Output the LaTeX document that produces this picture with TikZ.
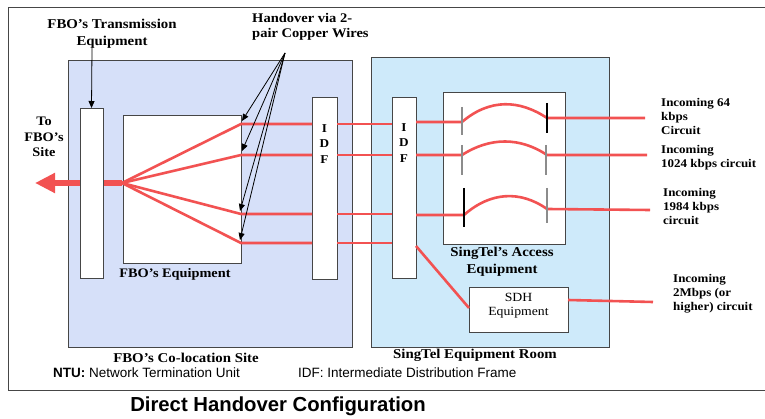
\documentclass[tikz,border=0pt]{standalone}
\usepackage{fontspec}
\setmainfont{Liberation Serif}[FakeStretch=1.1]
\newfontfamily\labelsans{Liberation Sans}
\usetikzlibrary{arrows.meta}

\definecolor{wirered}{RGB}{242,82,82}
\definecolor{colofill}{RGB}{214,224,249}
\definecolor{roomfill}{RGB}{206,234,250}
\definecolor{edgegray}{RGB}{70,70,70}
\definecolor{tickgray}{RGB}{140,140,140}

\begin{document}
\begin{tikzpicture}[x=1pt,y=-1pt,
  box/.style={draw=edgegray, line width=0.9pt, fill=white, anchor=north west,
    inner sep=0pt, outer sep=0pt},
  wire/.style={draw=wirered, line width=2.6pt},
  lbl/.style={font=\fontsize{13}{14}\selectfont\bfseries, align=center, inner sep=0pt},
  rlbl/.style={font=\fontsize{11.8}{14}\selectfont\bfseries, align=left, anchor=north west, inner sep=0pt},
  sanslbl/.style={font=\labelsans\fontsize{13.5}{14}\selectfont, anchor=west, inner sep=0pt},
  pointer/.style={draw=black, line width=0.8pt, -{Triangle[length=7pt,width=6pt]}},
  greytick/.style={draw=tickgray, line width=1.5pt},
  blacktick/.style={draw=black, line width=1.8pt},
]
\useasboundingbox (0,0) rectangle (765,419);

% outer frame
\draw[edgegray, line width=0.9pt] (766,7) -- (8,7) -- (8,390) -- (766,390);

% the two rooms
\node[box, fill=colofill, minimum width=284, minimum height=287] (colo) at (68,60) {};
\node[box, fill=roomfill, minimum width=238, minimum height=290] (room) at (371,57) {};

% aggregate link towards the FBO site
\coordinate (fan) at (122,183);
\coordinate (site) at (35,183);
\draw[draw=wirered, line width=6pt, -{Triangle[length=20pt,width=19pt]}] (fan) -- (site);

% equipment
\node[box, minimum width=23, minimum height=170] (tx) at (80,108) {};
\node[box, minimum width=118, minimum height=148] (fboeq) at (123,115) {};
\node[box, minimum width=25, minimum height=182] (idfA) at (312,97) {};
\node[box, minimum width=24, minimum height=181] (idfB) at (392,97) {};
\node[box, minimum width=122, minimum height=152] (access) at (443,92) {};
\node[box, minimum width=99, minimum height=45] (sdh) at (469,287) {};

% IDF letters
\node[lbl, align=center, font=\fontsize{12}{15.5}\selectfont\bfseries] (idfAtxt) at (324.5,144) {I\\D\\F};
\node[lbl, align=center, font=\fontsize{12}{15.5}\selectfont\bfseries] (idfBtxt) at (404,143) {I\\D\\F};
\node[font=\fontsize{12.5}{14}\selectfont, align=center, inner sep=0pt] (sdhtxt) at (518.5,306) {SDH\\Equipment};

% wire corners
\coordinate (p1) at (241,124);
\coordinate (p2) at (241,155);
\coordinate (p3) at (241,214);
\coordinate (p4) at (241,243);

% fan-out inside the FBO equipment and the pairs to the IDFs
\draw[wire] (fan) -- (p1) -- (p1 -| idfA.west);
\draw[wire] (fan) -- (p2) -- (p2 -| idfA.west);
\draw[wire] (fan) -- (p3) -- (p3 -| idfA.west);
\draw[wire] (fan) -- (p4) -- (p4 -| idfA.west);
\draw[wire] (p1 -| idfA.east) -- (p1 -| idfB.west);
\draw[wire] (p2 -| idfA.east) -- (p2 -| idfB.west);
\draw[wire] (p3 -| idfA.east) -- (p3 -| idfB.west);
\draw[wire] (p4 -| idfA.east) -- (p4 -| idfB.west);

% circuits through the access equipment
\coordinate (c1a) at (462,122);
\coordinate (c1b) at (547,118);
\coordinate (c1c) at (645,118);
\coordinate (c2a) at (462,155);
\coordinate (c2b) at (547,155);
\coordinate (c2c) at (647,155);
\coordinate (c3a) at (464,215);
\coordinate (c3b) at (547,209);
\coordinate (c3c) at (650,210);
\draw[wire] (idfB.east |- c1a) -- (c1a) .. controls (490,98) and (520,100) .. (c1b) -- (c1c);
\draw[wire] (idfB.east |- c2a) -- (c2a) .. controls (490,137) and (520,137) .. (c2b) -- (c2c);
\draw[wire] (idfB.east |- c3a) -- (c3a) .. controls (490,192) and (520,190) .. (c3b) -- (c3c);

% 2 Mbps circuit via SDH
\coordinate (s1) at (416,246);
\coordinate (s2) at (469,308);
\coordinate (s3) at (568,300);
\coordinate (s4) at (653,302);
\draw[wire] (s1) -- (s2);
\draw[wire] (s3) -- (s4);

% terminations
\draw[greytick] (462,107) -- (462,135);
\draw[blacktick] (547,103) -- (547,133);
\draw[greytick] (462,145) -- (462,175);
\draw[greytick] (546,145) -- (546,175);
\draw[blacktick, line width=2.6pt] (464,188) -- (464,227);
\draw[greytick] (547,188) -- (547,223);

% handover pointers
\coordinate (hv) at (285,53);
\coordinate (a1) at (242,121);
\coordinate (a2) at (242,151);
\coordinate (a3) at (240,211);
\coordinate (a4) at (240,240);
\draw[pointer] (hv) -- (a1);
\draw[pointer] (hv) -- (a2);
\draw[pointer] (hv) -- (a3);
\draw[pointer] (hv) -- (a4);

% transmission equipment pointer
\coordinate (txlbl) at (92,48);
\draw[pointer] (txlbl) -- (tx.north);

% labels
\node[lbl, font=\fontsize{13.5}{17}\selectfont\bfseries] (txname) at (112,34) {FBO’s Transmission\\Equipment};
\node[lbl, font=\fontsize{13.2}{15}\selectfont\bfseries, anchor=west, align=left] (hvname) at (252,27) {Handover via 2-\\pair Copper Wires};
\node[lbl, font=\fontsize{13}{15.5}\selectfont\bfseries] (sitename) at (44,137) {To\\FBO’s\\Site};
\node[lbl] (fboeqname) at (175,274) {FBO’s Equipment};
\node[lbl, font=\fontsize{13.5}{14}\selectfont\bfseries] (coloname) at (186,358) {FBO’s Co-location Site};
\node[lbl, font=\fontsize{13.5}{17.5}\selectfont\bfseries] (accessname) at (502,262) {SingTel’s Access\\Equipment};
\node[lbl, font=\fontsize{13.5}{14}\selectfont\bfseries] (roomname) at (475,355) {SingTel Equipment Room};

\node[rlbl] (in64) at (661,98) {Incoming 64\\kbps\\Circuit};
\node[rlbl] (in1024) at (661,145) {Incoming\\1024 kbps circuit};
\node[rlbl] (in1984) at (663,188) {Incoming\\1984 kbps\\circuit};
\node[rlbl] (in2m) at (673,274) {Incoming\\2Mbps (or\\higher) circuit};

\node[sanslbl] (ntu) at (53,373) {\textbf{NTU:} Network Termination Unit};
\node[sanslbl] (idfkey) at (298,373) {IDF: Intermediate Distribution Frame};

\node[font=\labelsans\fontsize{20.3}{24}\selectfont\bfseries, inner sep=0pt] (title) at (278,406) {Direct Handover Configuration};
\end{tikzpicture}
\end{document}
